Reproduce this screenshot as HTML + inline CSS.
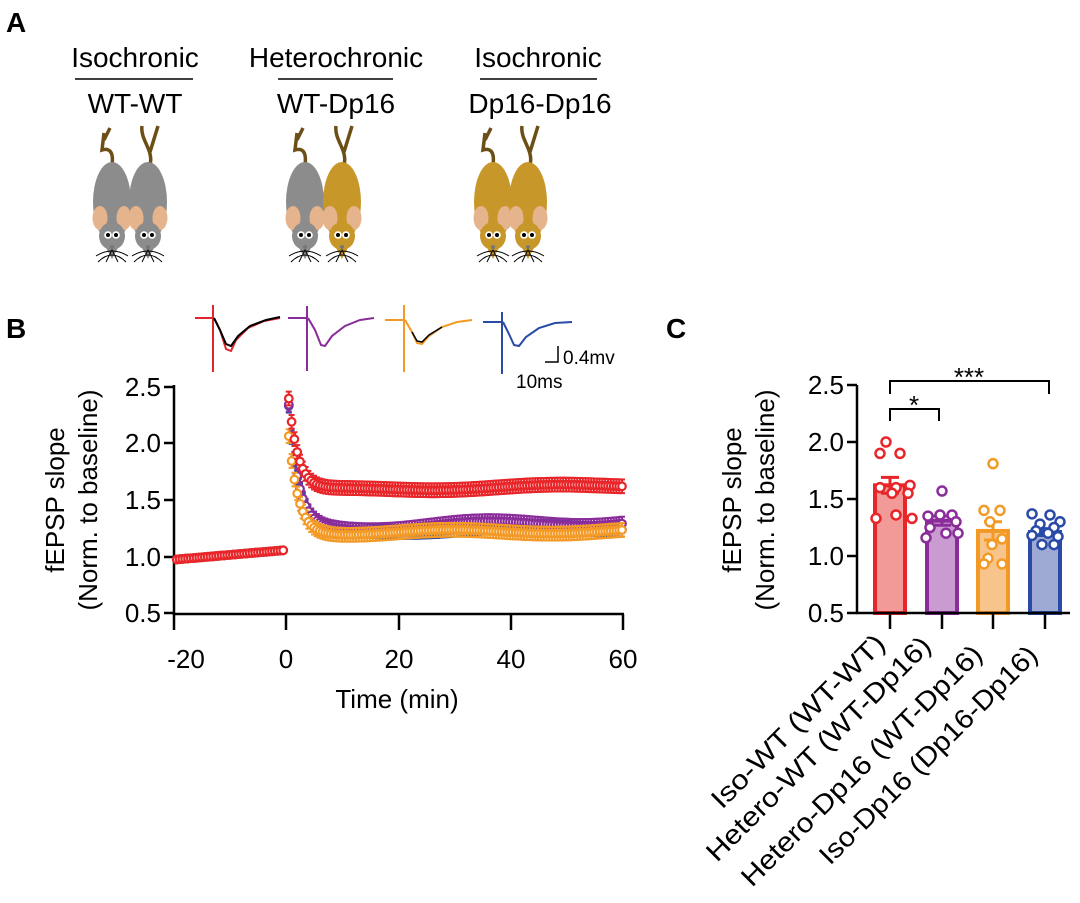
<!DOCTYPE html>
<html><head><meta charset="utf-8"><style>
body{margin:0;background:#fff;}
svg{display:block;font-family:"Liberation Sans",Arial,sans-serif;}
</style></head><body>
<svg id="s" width="1080" height="903" viewBox="0 0 1080 903" xmlns="http://www.w3.org/2000/svg">
<g font-weight="bold" font-size="28">
<text x="6" y="32">A</text><text x="6" y="338">B</text><text x="666" y="338">C</text>
</g>
<g font-size="28" text-anchor="middle">
<text x="135" y="67">Isochronic</text><text x="135" y="113">WT-WT</text>
<text x="336" y="67">Heterochronic</text><text x="336" y="113">WT-Dp16</text>
<text x="538" y="67">Isochronic</text><text x="540" y="113">Dp16-Dp16</text>
</g>
<g stroke="#000" stroke-width="1.5">
<line x1="75" y1="79" x2="193" y2="79"/><line x1="278" y1="79" x2="393" y2="79"/><line x1="480" y1="79" x2="597" y2="79"/>
</g>
<g id="mice"></g>
<g fill="none" stroke-width="2">
<path d="M195 318 L212 318 M213 305 L213 372 M214 318 L220 330 L226 349 L231 351 L236 340 L248 328 L264 321 L280 318" stroke="#e0262a"/>
<path d="M214 318 L220 330 L226 344 L231 346 L238 336 L250 326 L266 320 L280 317" stroke="#000"/>
<path d="M288 318 L306 318 M307 306 L307 371 M308 318 L315 330 L321 345 L325 346 L332 336 L345 326 L360 320 L374 318" stroke="#8a2c9a"/>
<path d="M385 320 L403 320 M404 305 L404 372 M405 320 L412 332 L417 343 L422 344 L429 336 L442 327 L457 322 L472 320" stroke="#f39a26"/>
<path d="M412 332 L417 341 L422 342 L429 335 L442 327" stroke="#000" stroke-width="1.5"/>
<path d="M483 322 L501 322 M502 312 L502 374 M503 322 L509 334 L514 345 L519 346 L526 337 L539 328 L555 323 L572 322" stroke="#2a4aa8"/>
<path d="M545 362 L558 362 L558 346" stroke="#000" stroke-width="1.5"/>
</g>
<text x="563" y="364" font-size="19">0.4mv</text>
<text x="516" y="388" font-size="19">10ms</text>
<g stroke="#000" stroke-width="2.5" fill="none">
<path d="M174 385 L174 614 L624 614"/>
<path d="M164 387 H174 M164 443 H174 M164 500 H174 M164 557 H174 M164 613 H174"/>
<path d="M174 614 V630 M286 614 V630 M399 614 V630 M511 614 V630 M623 614 V630"/>
</g>
<g font-size="26" text-anchor="end">
<text x="161" y="396">2.5</text><text x="161" y="452">2.0</text><text x="161" y="509">1.5</text><text x="161" y="566">1.0</text><text x="161" y="622">0.5</text>
</g>
<g font-size="26" text-anchor="middle">
<text x="186" y="668">-20</text><text x="286" y="668">0</text><text x="399" y="668">20</text><text x="511" y="668">40</text><text x="623" y="668">60</text>
<text x="397" y="708">Time (min)</text>
</g>
<g font-size="26" text-anchor="middle">
<text transform="translate(64,500) rotate(-90)">fEPSP slope</text>
<text transform="translate(97,500) rotate(-90)">(Norm. to baseline)</text>
<text transform="translate(741,500) rotate(-90)">fEPSP slope</text>
<text transform="translate(774,500) rotate(-90)">(Norm. to baseline)</text>
</g>
<g id="dataB"></g>
<g id="bars"></g>
<g stroke="#000" stroke-width="2.5" fill="none">
<path d="M857 385 L857 613 L1070 613"/>
<path d="M847 385 H857 M847 442 H857 M847 499 H857 M847 556 H857 M847 613 H857"/>
<path d="M890 613 V629 M942 613 V629 M993 613 V629 M1045 613 V629"/>
<path d="M890 394 V381 H1049 V394" stroke-width="2"/>
<path d="M890 421 V409 H939 V421" stroke-width="2"/>
</g>
<g font-size="26" text-anchor="end">
<text x="844" y="394">2.5</text><text x="844" y="451">2.0</text><text x="844" y="508">1.5</text><text x="844" y="565">1.0</text><text x="844" y="622">0.5</text>
</g>
<text x="969" y="386" font-size="26" text-anchor="middle">***</text>
<text x="914" y="414" font-size="26" text-anchor="middle">*</text>
<g font-size="27">
<text transform="translate(722,810) rotate(-45)" textLength="233" lengthAdjust="spacingAndGlyphs">Iso-WT (WT-WT)</text>
<text transform="translate(717,863) rotate(-45)" textLength="305" lengthAdjust="spacingAndGlyphs">Hetero-WT (WT-Dp16)</text>
<text transform="translate(752,888) rotate(-45)" textLength="328" lengthAdjust="spacingAndGlyphs">Hetero-Dp16 (WT-Dp16)</text>
<text transform="translate(830,866) rotate(-45)" textLength="296" lengthAdjust="spacingAndGlyphs">Iso-Dp16 (Dp16-Dp16)</text>
</g>
</svg>
<script>
var NS="http://www.w3.org/2000/svg";
function el(p,t,a){var e=document.createElementNS(NS,t);for(var k in a)e.setAttribute(k,a[k]);p.appendChild(e);return e;}
var mg=document.getElementById('mice');
function mouse(cx,col,right){
 var tail=right?"M"+(cx+2)+" 165 C"+(cx+6)+" 150 "+(cx-8)+" 140 "+(cx-6)+" 126 M"+(cx+2)+" 152 L"+(cx+10)+" 126":"M"+cx+" 165 C"+(cx+2)+" 150 "+(cx-4)+" 148 "+(cx-10)+" 150 L"+(cx-8)+" 133 M"+(cx-8)+" 140 L"+(cx-2)+" 128";
 el(mg,'path',{d:tail,stroke:"#6b4f16",'stroke-width':3.5,fill:'none'});
 el(mg,'ellipse',{cx:cx,cy:202,rx:19,ry:40,fill:col});
 el(mg,'ellipse',{cx:cx-12,cy:218,rx:7.5,ry:12,fill:"#e6b48c"});
 el(mg,'ellipse',{cx:cx+12,cy:218,rx:7.5,ry:12,fill:"#e6b48c"});
 el(mg,'ellipse',{cx:cx,cy:236,rx:13,ry:14,fill:col});
 el(mg,'path',{d:"M"+(cx-7)+" 246 L"+cx+" 259 L"+(cx+7)+" 246Z",fill:col});
 el(mg,'circle',{cx:cx-4,cy:235,r:3.8,fill:"#fff"});el(mg,'circle',{cx:cx+4,cy:235,r:3.8,fill:"#fff"});
 el(mg,'circle',{cx:cx-4,cy:235,r:2,fill:"#000"});el(mg,'circle',{cx:cx+4,cy:235,r:2,fill:"#000"});
 el(mg,'circle',{cx:cx,cy:247,r:2,fill:"#777"});
 el(mg,'path',{d:"M"+(cx-16)+" 256 Q"+cx+" 246 "+(cx+16)+" 256 M"+(cx-14)+" 262 Q"+cx+" 248 "+(cx+14)+" 262 M"+(cx-6)+" 262 L"+cx+" 250 L"+(cx+6)+" 262",stroke:"#000",'stroke-width':1,fill:'none'});
}
var G="#8c8c8c",Y="#c8972a";
mouse(112,G,0);mouse(148,G,1);mouse(305,G,0);mouse(342,Y,1);mouse(493,Y,0);mouse(528,Y,1);
var dB=document.getElementById('dataB');
function X(t){return 286+t*5.6;} function Yv(v){return 613-(v-0.5)*114;}
function series(col,peak,plat,rise,err,seed,wob){
 var pts=[];
 for(var t=-19.5;t<=-0.5;t+=0.5){pts.push([t,0.97+(t+19.5)/19*0.08,0.015]);}
 for(var t=0.5;t<=60;t+=0.5){var v=plat+rise*t/60+(peak-plat)*Math.exp(-(t-0.5)/1.7)+wob*Math.sin(t/6+seed)*0.02;pts.push([t,v,err]);}
 pts.forEach(function(p){var x=X(p[0]),y=Yv(p[1]),e=p[2]*114;
  el(dB,'path',{d:"M"+x+" "+(y-e)+" V"+(y+e)+" M"+(x-3)+" "+(y-e)+" h6 M"+(x-3)+" "+(y+e)+" h6",stroke:col,'stroke-width':2,fill:'none'});});
 pts.forEach(function(p){el(dB,'circle',{cx:X(p[0]),cy:Yv(p[1]),r:3.8,fill:"#fff",stroke:col,'stroke-width':2.2});});
}
series("#2a4aa8",2.3,1.22,0.03,0.06,1,1);
series("#8a2c9a",2.3,1.24,0.06,0.06,2,1.5);
series("#f39a26",2.05,1.2,0.02,0.06,3,1);
series("#e8262a",2.38,1.57,0.05,0.06,0,0.8);
var bg=document.getElementById('bars');
function Yc(v){return 613-(v-0.5)*114;}
var bars=[[890,1.62,0.07,"#e8262a","#f29a98",[[886,2.0],[880,1.9],[900,1.9],[880,1.6],[896,1.6],[910,1.62],[892,1.55],[908,1.55],[876,1.33],[896,1.36],[912,1.33]]],
[942,1.31,0.04,"#8a2c9a","#c99bd0",[[942,1.57],[928,1.35],[940,1.36],[952,1.36],[956,1.3],[930,1.25],[946,1.2],[958,1.2],[926,1.16]]],
[993,1.22,0.08,"#f39a26","#f7c58c",[[993,1.81],[984,1.4],[1000,1.4],[990,1.3],[1002,1.15],[992,1.1],[988,0.98],[984,0.93],[1002,0.93]]],
[1045,1.21,0.03,"#2a4aa8","#9eaad4",[[1032,1.37],[1050,1.36],[1060,1.3],[1040,1.28],[1054,1.25],[1036,1.22],[1048,1.2],[1032,1.18],[1058,1.17],[1042,1.1],[1054,1.1]]]];
bars.forEach(function(b){var x=b[0],y=Yc(b[1]);
 el(bg,'rect',{x:x-15,y:y,width:30,height:613-y,fill:b[4],stroke:b[3],'stroke-width':4});
 var e=b[2]*114;
 el(bg,'path',{d:"M"+x+" "+y+" V"+(y-e)+" M"+(x-9)+" "+(y-e)+" h18 M"+x+" "+y+" V"+(y+e)+" M"+(x-9)+" "+(y+e)+" h18",stroke:b[3],'stroke-width':3,fill:'none'});
 b[5].forEach(function(p){el(bg,'circle',{cx:p[0],cy:Yc(p[1]),r:4.5,fill:"#fff",stroke:b[3],'stroke-width':2.5});});
});
</script>
</body></html>
